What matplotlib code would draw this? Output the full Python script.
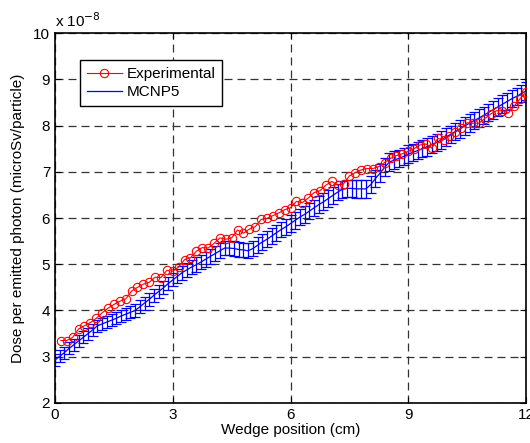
import matplotlib
matplotlib.use("Agg")
import matplotlib.pyplot as plt
import numpy as np

plt.rcParams["font.family"] = ["Liberation Sans", "DejaVu Sans"]

# measured dose, 1.5 mm wedge steps (units of 1e-8 microSv/particle)
exp_x = np.arange(1, 81) * 0.15
exp_dose = [
    3.35, 3.35, 3.42, 3.60, 3.67, 3.74, 3.83, 3.95, 4.05, 4.13,
    4.20, 4.25, 4.42, 4.50, 4.57, 4.61, 4.72, 4.71, 4.87, 4.85,
    4.94, 5.10, 5.14, 5.28, 5.36, 5.35, 5.45, 5.57, 5.54, 5.57,
    5.74, 5.67, 5.76, 5.81, 5.97, 5.99, 6.05, 6.11, 6.18, 6.22,
    6.36, 6.33, 6.43, 6.55, 6.59, 6.71, 6.79, 6.71, 6.74, 6.91,
    6.98, 7.04, 7.07, 7.07, 7.11, 7.20, 7.29, 7.35, 7.39, 7.44,
    7.50, 7.58, 7.60, 7.51, 7.72, 7.69, 7.77, 7.86, 7.94, 8.06,
    8.05, 8.05, 8.15, 8.25, 8.32, 8.32, 8.27, 8.42, 8.58, 8.72,
]

# MCNP5 tallies on a 1.2 mm grid
mcnp_x = np.arange(101) * 0.12
mcnp_dose = [
    2.93, 3.01, 3.09, 3.18, 3.26, 3.34, 3.42, 3.50, 3.58, 3.67,
    3.71, 3.75, 3.79, 3.83, 3.88, 3.92, 3.96, 4.00,
    4.08, 4.16, 4.24, 4.33, 4.41, 4.49, 4.58, 4.66, 4.74,
    4.82, 4.88, 4.94, 4.99, 5.05, 5.11, 5.17, 5.23, 5.29, 5.35,
    5.35, 5.34, 5.32, 5.31, 5.29,
    5.34, 5.41, 5.48, 5.54, 5.61, 5.68, 5.75, 5.81, 5.88, 5.95,
    6.02, 6.08, 6.15, 6.22, 6.29, 6.35, 6.42, 6.49, 6.56, 6.62,
    6.64, 6.64, 6.63, 6.63, 6.63,
    6.72, 6.85, 6.97, 7.10,
    7.21, 7.25, 7.29, 7.33, 7.38, 7.42, 7.46, 7.50, 7.54, 7.59,
    7.63, 7.69, 7.75, 7.81, 7.87, 7.93, 7.99, 8.05, 8.11, 8.16,
    8.22, 8.28, 8.34, 8.40, 8.46, 8.52, 8.58, 8.63, 8.69, 8.75,
]
mcnp_err = [
    0.13, 0.13, 0.13, 0.13, 0.13, 0.13, 0.13, 0.13, 0.13, 0.13,
    0.13, 0.13, 0.13, 0.13, 0.13, 0.13, 0.13, 0.14,
    0.14, 0.14, 0.14, 0.14, 0.14, 0.14, 0.14, 0.14, 0.15,
    0.15, 0.15, 0.15, 0.16, 0.16, 0.16, 0.16, 0.16, 0.16, 0.16,
    0.16, 0.16, 0.16, 0.16, 0.16,
    0.17, 0.17, 0.17, 0.17, 0.17, 0.17, 0.17, 0.17, 0.18, 0.18,
    0.18, 0.18, 0.18, 0.18, 0.18, 0.18, 0.18, 0.18, 0.18, 0.19,
    0.19, 0.19, 0.19, 0.19, 0.19,
    0.19, 0.19, 0.19, 0.19,
    0.19, 0.19, 0.19, 0.19, 0.19, 0.19, 0.19, 0.19, 0.19, 0.19,
    0.19, 0.19, 0.19, 0.19, 0.19, 0.19, 0.19, 0.19, 0.19, 0.19,
    0.19, 0.19, 0.19, 0.19, 0.19, 0.19, 0.19, 0.19, 0.19, 0.19,
]

fig = plt.figure(figsize=(5.30, 4.43), dpi=100)
ax = fig.add_axes([0.1038, 0.0903, 0.8887, 0.8352])

ax.errorbar(mcnp_x, mcnp_dose, yerr=mcnp_err, fmt="none", ecolor="blue",
            elinewidth=0.9, capsize=3.5, capthick=0.9, zorder=2)
mcnp_line, = ax.plot(mcnp_x, mcnp_dose, color="blue", lw=0.9, zorder=3)
exp_line, = ax.plot(exp_x, exp_dose, color="red", lw=0.8, marker="o",
                    markersize=6, markerfacecolor="none",
                    markeredgecolor="red", markeredgewidth=0.8, zorder=4)

ax.set_xlim(0, 12)
ax.set_ylim(2, 10)
ax.set_xticks([0, 3, 6, 9, 12])
ax.set_yticks(range(2, 11))
ax.tick_params(direction="in", top=True, right=True, length=4,
               labelsize=11, width=0.8)
ax.grid(True, color="#333333", linestyle=(0, (6.4, 4)), lw=0.9)
for s in ax.spines.values():
    s.set_linewidth(1.2)

ax.set_xlabel("Wedge position (cm)", fontsize=11, labelpad=1)
ax.set_ylabel("Dose per emitted photon (microSv/particle)", fontsize=11, labelpad=6)
ax.text(0.0, 1.008, r"x 10$^{-8}$", transform=ax.transAxes, fontsize=11,
        ha="left", va="bottom")

leg = ax.legend([exp_line, mcnp_line], ["Experimental", "MCNP5"],
                loc="upper left", bbox_to_anchor=(0.053, 0.927),
                borderaxespad=0, fontsize=11, fancybox=False, framealpha=1,
                edgecolor="black", handlelength=2.3, borderpad=0.45,
                labelspacing=0.3, handletextpad=0.3)
leg.get_frame().set_linewidth(1.0)

fig.savefig("out.png", dpi=100)
